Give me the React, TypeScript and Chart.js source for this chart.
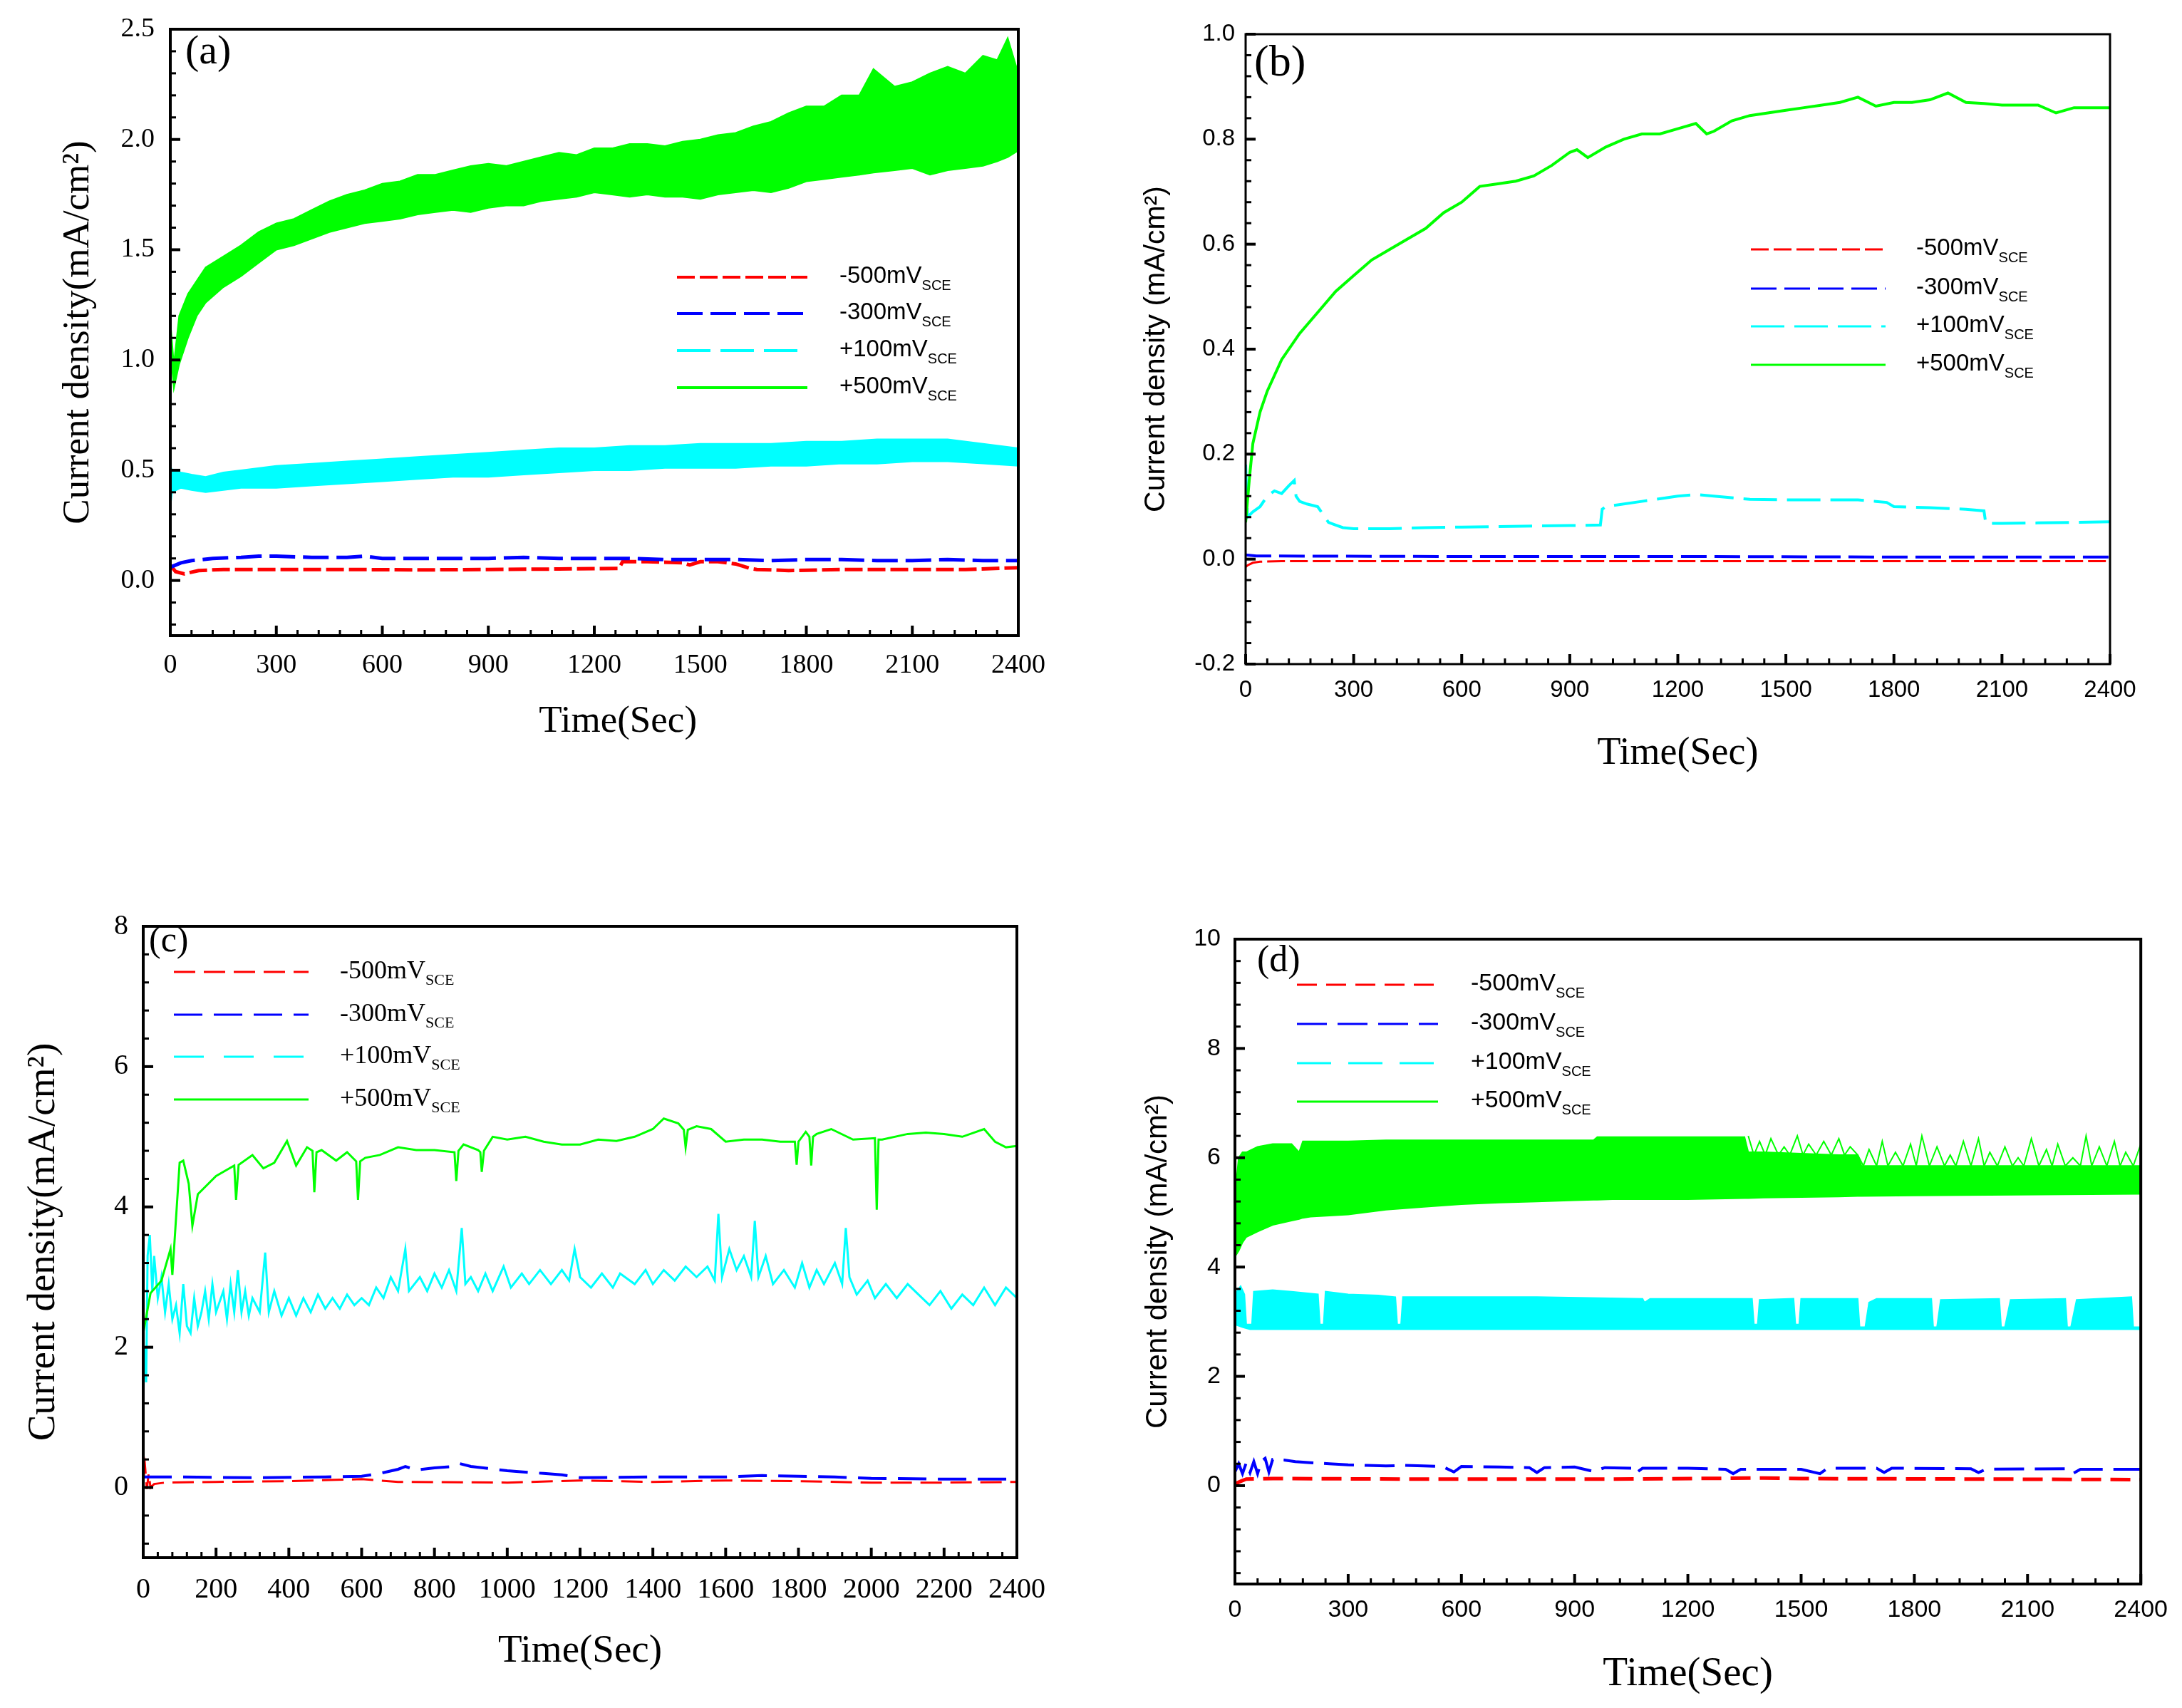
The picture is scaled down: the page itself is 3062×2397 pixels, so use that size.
import React, { useEffect, useRef } from "react";
import { Chart, registerables } from "chart.js";

Chart.register(...registerables);

const SERIF = "'Liberation Serif', 'Times New Roman', serif";
const SANS = "'Liberation Sans', Arial, sans-serif";
const RED = "#ff0000";
const BLUE = "#0000ff";
const CYAN = "#00ffff";
const GREEN = "#00ff00";
const LEGEND_COLORS = [RED, BLUE, CYAN, GREEN];

const legendLabels = ["-500mV", "-300mV", "+100mV", "+500mV"];
const legendSub = "SCE";

// ---------------- panel (a) ----------------
const aXTicks = [0, 300, 600, 900, 1200, 1500, 1800, 2100, 2400];
const aYTicks = [0, 0.5, 1, 1.5, 2, 2.5];
const aRedT = [0, 15, 40, 80, 150, 300, 500, 700, 900, 1100, 1270, 1280, 1350, 1450, 1470, 1500, 1550, 1600, 1640, 1660, 1750, 1900, 2100, 2250, 2400];
const aRedV = [0.07, 0.04, 0.03, 0.045, 0.05, 0.05, 0.05, 0.048, 0.05, 0.052, 0.055, 0.085, 0.085, 0.08, 0.07, 0.085, 0.085, 0.075, 0.055, 0.05, 0.045, 0.05, 0.05, 0.05, 0.058];
const aBlueT = [0, 30, 60, 120, 200, 250, 300, 400, 500, 550, 600, 700, 800, 900, 1000, 1100, 1200, 1300, 1400, 1500, 1600, 1700, 1800, 1900, 2000, 2100, 2200, 2300, 2400];
const aBlueV = [0.06, 0.08, 0.09, 0.1, 0.105, 0.11, 0.11, 0.105, 0.105, 0.11, 0.1, 0.1, 0.1, 0.1, 0.105, 0.1, 0.1, 0.1, 0.095, 0.095, 0.095, 0.09, 0.095, 0.095, 0.09, 0.09, 0.095, 0.09, 0.09];
const aCyanT = [0, 5, 30, 60, 100, 150, 200, 300, 400, 500, 600, 700, 800, 900, 1000, 1100, 1200, 1300, 1400, 1500, 1600, 1700, 1800, 1900, 2000, 2100, 2200, 2300, 2400];
const aCyanHi = [0.52, 0.5, 0.49, 0.48, 0.47, 0.49, 0.5, 0.52, 0.53, 0.54, 0.55, 0.56, 0.57, 0.58, 0.59, 0.6, 0.6, 0.61, 0.61, 0.62, 0.62, 0.62, 0.63, 0.63, 0.64, 0.64, 0.64, 0.62, 0.6];
const aCyanLo = [0.33, 0.4, 0.42, 0.41, 0.4, 0.41, 0.42, 0.42, 0.43, 0.44, 0.45, 0.46, 0.47, 0.47, 0.48, 0.49, 0.5, 0.5, 0.51, 0.51, 0.51, 0.52, 0.52, 0.53, 0.53, 0.54, 0.54, 0.53, 0.52];
const aGreenT = [0, 10, 25, 50, 75, 100, 150, 200, 250, 300, 350, 400, 450, 500, 550, 600, 650, 700, 750, 800, 850, 900, 950, 1000, 1050, 1100, 1150, 1200, 1250, 1300, 1350, 1400, 1450, 1500, 1550, 1600, 1650, 1700, 1750, 1800, 1850, 1900, 1950, 1990, 2050, 2100, 2150, 2200, 2250, 2300, 2340, 2370, 2400];
const aGreenHi = [1.18, 0.98, 1.2, 1.3, 1.36, 1.42, 1.47, 1.52, 1.58, 1.62, 1.64, 1.68, 1.72, 1.75, 1.77, 1.8, 1.81, 1.84, 1.84, 1.86, 1.88, 1.89, 1.88, 1.9, 1.92, 1.94, 1.93, 1.96, 1.96, 1.98, 1.98, 1.97, 1.99, 2.0, 2.02, 2.03, 2.06, 2.08, 2.12, 2.15, 2.15, 2.2, 2.2, 2.32, 2.24, 2.26, 2.3, 2.33, 2.3, 2.38, 2.36, 2.46, 2.3];
const aGreenLo = [1.05, 0.87, 0.98, 1.1, 1.2, 1.26, 1.33, 1.38, 1.44, 1.5, 1.52, 1.55, 1.58, 1.6, 1.62, 1.63, 1.64, 1.66, 1.67, 1.68, 1.67, 1.69, 1.7, 1.7, 1.72, 1.73, 1.74, 1.76, 1.75, 1.74, 1.75, 1.74, 1.74, 1.73, 1.75, 1.76, 1.77, 1.76, 1.78, 1.81, 1.82, 1.83, 1.84, 1.85, 1.86, 1.87, 1.84, 1.86, 1.87, 1.88, 1.9, 1.92, 1.95];

// ---------------- panel (b) ----------------
const bXTicks = [0, 300, 600, 900, 1200, 1500, 1800, 2100, 2400];
const bYTicks = [-0.2, 0, 0.2, 0.4, 0.6, 0.8, 1.0];
const bRedT = [0, 5, 20, 40, 100, 600, 1200, 1800, 2400];
const bRedV = [-0.015, -0.012, -0.007, -0.005, -0.004, -0.004, -0.004, -0.004, -0.004];
const bBlueT = [0, 30, 600, 1200, 1800, 2400];
const bBlueV = [0.008, 0.006, 0.005, 0.005, 0.004, 0.004];
const bCyanT = [0, 5, 20, 40, 60, 80, 100, 120, 135, 140, 150, 170, 200, 230, 250, 270, 300, 400, 500, 600, 700, 800, 900, 985, 990, 1000, 1100, 1200, 1250, 1300, 1400, 1500, 1600, 1700, 1750, 1780, 1800, 1900, 2000, 2050, 2055, 2100, 2200, 2300, 2400];
const bCyanV = [0.18, 0.08, 0.09, 0.1, 0.12, 0.13, 0.125, 0.14, 0.15, 0.12, 0.11, 0.105, 0.1, 0.07, 0.065, 0.06, 0.058, 0.058, 0.06, 0.061, 0.062, 0.063, 0.064, 0.065, 0.095, 0.1, 0.11, 0.12, 0.123, 0.12, 0.114, 0.113, 0.113, 0.113, 0.11, 0.108, 0.1, 0.098, 0.095, 0.092, 0.068, 0.068, 0.069, 0.07, 0.071];
const bGreenT = [0, 10, 20, 40, 60, 100, 150, 200, 250, 300, 350, 400, 450, 500, 550, 600, 650, 700, 750, 800, 850, 900, 920, 950, 1000, 1050, 1100, 1150, 1200, 1250, 1280, 1300, 1350, 1400, 1450, 1500, 1550, 1600, 1650, 1700, 1750, 1800, 1850, 1900, 1950, 2000, 2050, 2100, 2150, 2200, 2250, 2300, 2350, 2400];
const bGreenV = [0.07, 0.15, 0.22, 0.28, 0.32, 0.38, 0.43, 0.47, 0.51, 0.54, 0.57, 0.59, 0.61, 0.63, 0.66, 0.68, 0.71, 0.715, 0.72, 0.73, 0.75, 0.775, 0.78, 0.765, 0.785, 0.8, 0.81, 0.81, 0.82, 0.83, 0.81, 0.815, 0.835, 0.845, 0.85, 0.855, 0.86, 0.865, 0.87, 0.88, 0.863, 0.87, 0.87, 0.875, 0.888, 0.87, 0.868, 0.865, 0.865, 0.865, 0.85, 0.86, 0.86, 0.86];

// ---------------- panel (c) ----------------
const cXTicks = [0, 200, 400, 600, 800, 1000, 1200, 1400, 1600, 1800, 2000, 2200, 2400];
const cYTicks = [0, 2, 4, 6, 8];
const cRedT = [0, 5, 10, 15, 20, 30, 60, 200, 400, 600, 700, 1000, 1200, 1400, 1600, 1800, 2000, 2200, 2400];
const cRedV = [0.1, 0.3, -0.02, 0.2, 0.0, 0.05, 0.07, 0.08, 0.09, 0.12, 0.08, 0.07, 0.1, 0.08, 0.1, 0.09, 0.07, 0.07, 0.08];
const cBlueT = [0, 100, 300, 500, 600, 650, 700, 720, 750, 800, 850, 870, 900, 950, 1000, 1050, 1100, 1150, 1200, 1400, 1600, 1700, 1800, 1900, 2000, 2200, 2400];
const cBlueV = [0.15, 0.15, 0.14, 0.15, 0.16, 0.2, 0.26, 0.3, 0.25, 0.28, 0.3, 0.34, 0.3, 0.27, 0.24, 0.22, 0.2, 0.18, 0.14, 0.15, 0.15, 0.17, 0.16, 0.15, 0.13, 0.12, 0.12];
const cCyanT = [0, 3, 8, 12, 18, 25, 30, 40, 50, 60, 70, 80, 90, 100, 110, 120, 130, 140, 150, 160, 170, 180, 190, 200, 220, 230, 240, 250, 260, 270, 280, 290, 300, 320, 335, 345, 360, 380, 400, 420, 440, 460, 480, 500, 520, 540, 560, 580, 600, 620, 640, 660, 680, 700, 720, 730, 760, 780, 800, 820, 840, 860, 875, 885, 900, 920, 940, 960, 990, 1010, 1040, 1060, 1090, 1120, 1150, 1170, 1185, 1200, 1230, 1260, 1290, 1310, 1350, 1380, 1400, 1430, 1460, 1490, 1520, 1550, 1570, 1580, 1590, 1610, 1630, 1650, 1670, 1680, 1690, 1710, 1730, 1760, 1790, 1810, 1830, 1850, 1870, 1900, 1920, 1930, 1940, 1960, 1990, 2010, 2040, 2070, 2100, 2130, 2160, 2190, 2220, 2250, 2280, 2310, 2340, 2370, 2400];
const cCyanV = [1.1, 2.0, 1.5, 3.3, 3.6, 2.8, 3.3, 2.7, 3.0, 2.5, 2.9, 2.4, 2.6, 2.2, 2.9, 2.3, 2.2, 2.7, 2.3, 2.5, 2.8, 2.4, 2.9, 2.5, 2.8, 2.4, 2.9, 2.5, 3.1, 2.5, 2.8, 2.45, 2.7, 2.5, 3.35, 2.5, 2.8, 2.45, 2.7, 2.45, 2.7, 2.5, 2.75, 2.55, 2.7, 2.55, 2.75, 2.6, 2.7, 2.6, 2.85, 2.7, 3.0, 2.8, 3.4, 2.8, 3.0, 2.8, 3.05, 2.85, 3.1, 2.8, 3.7, 2.9, 3.0, 2.8, 3.05, 2.8, 3.15, 2.85, 3.05, 2.9, 3.1, 2.9, 3.1, 2.95, 3.4, 3.0, 2.85, 3.05, 2.85, 3.05, 2.9, 3.1, 2.9, 3.1, 2.95, 3.15, 3.0, 3.15, 2.95, 3.9, 3.0, 3.4, 3.1, 3.3, 3.0, 3.8, 3.0, 3.3, 2.9, 3.1, 2.85, 3.2, 2.85, 3.1, 2.9, 3.2, 2.9, 3.7, 3.0, 2.75, 2.95, 2.7, 2.9, 2.7, 2.9, 2.75, 2.6, 2.8, 2.55, 2.75, 2.6, 2.85, 2.6, 2.85, 2.7];
const cGreenT = [0, 20, 50, 75, 80, 100, 110, 125, 135, 150, 200, 250, 255, 262, 300, 330, 360, 395, 420, 450, 465, 470, 476, 490, 530, 560, 585, 590, 596, 610, 650, 700, 750, 800, 855, 860, 866, 880, 920, 926, 930, 936, 960, 1000, 1050, 1100, 1150, 1200, 1250, 1300, 1350, 1400, 1430, 1470, 1485, 1490, 1496, 1520, 1560, 1600, 1650, 1700, 1750, 1790, 1795, 1800, 1820, 1830, 1835, 1840, 1850, 1890, 1950, 2010, 2015, 2020, 2030, 2100, 2150, 2200, 2250, 2310, 2340, 2370, 2400];
const cGreenV = [2.2, 2.77, 2.95, 3.4, 3.03, 4.63, 4.66, 4.33, 3.73, 4.18, 4.44, 4.59, 4.1, 4.6, 4.74, 4.55, 4.63, 4.94, 4.59, 4.85, 4.8, 4.21, 4.78, 4.81, 4.66, 4.78, 4.65, 4.1, 4.65, 4.7, 4.74, 4.85, 4.81, 4.81, 4.78, 4.37, 4.8, 4.89, 4.81, 4.78, 4.5, 4.8, 5.0, 4.96, 5.0, 4.93, 4.89, 4.89, 4.96, 4.94, 5.0, 5.11, 5.26, 5.19, 5.1, 4.85, 5.1, 5.15, 5.11, 4.93, 4.96, 4.96, 4.93, 4.93, 4.6, 4.93, 5.07, 5.0, 4.59, 5.0, 5.04, 5.11, 4.96, 4.98, 3.96, 4.96, 4.96, 5.04, 5.06, 5.04, 5.0, 5.11, 4.93, 4.85, 4.87];

// ---------------- panel (d) ----------------
const dXTicks = [0, 300, 600, 900, 1200, 1500, 1800, 2100, 2400];
const dYTicks = [0, 2, 4, 6, 8, 10];
const dRedT = [0, 15, 30, 100, 500, 1000, 1400, 1500, 2000, 2400];
const dRedV = [0.03, 0.08, 0.12, 0.13, 0.12, 0.12, 0.14, 0.13, 0.12, 0.11];
const dBlueT = [0, 10, 20, 30, 40, 50, 60, 70, 80, 90, 100, 130, 160, 200, 250, 300, 350, 400, 450, 500, 550, 580, 600, 700, 780, 800, 820, 900, 950, 980, 1050, 1060, 1080, 1200, 1300, 1320, 1340, 1500, 1550, 1570, 1700, 1720, 1740, 1950, 1970, 1990, 2200, 2220, 2240, 2400];
const dBlueV = [0.25, 0.4, 0.22, 0.42, 0.24, 0.44, 0.22, 0.45, 0.5, 0.25, 0.48, 0.47, 0.44, 0.42, 0.4, 0.38, 0.37, 0.36, 0.37, 0.36, 0.35, 0.25, 0.35, 0.34, 0.33, 0.24, 0.33, 0.34, 0.26, 0.33, 0.32, 0.22, 0.32, 0.32, 0.3, 0.22, 0.3, 0.3, 0.22, 0.32, 0.32, 0.24, 0.32, 0.31, 0.24, 0.3, 0.31, 0.22, 0.3, 0.3];
const dCyanT = [0, 15, 25, 30, 45, 50, 100, 150, 220, 225, 235, 240, 300, 380, 425, 430, 440, 445, 600, 800, 1080, 1085, 1100, 1370, 1375, 1385, 1390, 1480, 1485, 1495, 1500, 1650, 1655, 1670, 1680, 1700, 1845, 1850, 1860, 1870, 2025, 2030, 2040, 2055, 2200, 2205, 2215, 2230, 2375, 2380, 2400];
const dCyanHi = [3.5, 3.65, 3.5, 2.95, 2.95, 3.55, 3.58, 3.55, 3.5, 2.95, 2.95, 3.55, 3.5, 3.48, 3.45, 2.95, 2.95, 3.45, 3.45, 3.45, 3.42, 3.35, 3.42, 3.42, 2.95, 2.95, 3.4, 3.42, 2.95, 2.95, 3.42, 3.42, 2.9, 2.9, 3.35, 3.42, 3.42, 2.9, 2.9, 3.4, 3.42, 2.9, 2.9, 3.4, 3.42, 2.9, 2.9, 3.4, 3.45, 2.9, 2.9];
const dCyanLoT = [0, 20, 40, 2400];
const dCyanLoV = [2.95, 2.9, 2.86, 2.86];
const dGreenT = [0, 10, 20, 30, 60, 100, 150, 170, 180, 200, 300, 400, 500, 600, 700, 800, 900, 950, 960, 1000, 1200, 1350, 1360, 1400, 1600, 1650, 1660, 1800, 2000, 2200, 2400];
const dGreenHi = [5.3, 6.0, 6.1, 6.1, 6.2, 6.25, 6.25, 6.1, 6.3, 6.3, 6.3, 6.32, 6.32, 6.32, 6.32, 6.32, 6.32, 6.32, 6.38, 6.38, 6.38, 6.38, 6.1, 6.1, 6.05, 6.05, 5.85, 5.85, 5.85, 5.85, 5.85];
const dGreenLo = [4.19, 4.3, 4.45, 4.55, 4.65, 4.77, 4.85, 4.88, 4.9, 4.92, 4.96, 5.05, 5.1, 5.15, 5.18, 5.2, 5.22, 5.23, 5.23, 5.24, 5.24, 5.26, 5.26, 5.27, 5.29, 5.3, 5.3, 5.31, 5.32, 5.33, 5.34];
const dGreenSpikeT = [1360, 1375, 1390, 1405, 1420, 1440, 1455, 1470, 1490, 1505, 1520, 1540, 1560, 1580, 1600, 1615, 1630, 1650, 1665, 1680, 1700, 1715, 1730, 1750, 1770, 1790, 1805, 1820, 1840, 1860, 1880, 1895, 1910, 1930, 1950, 1970, 1985, 2000, 2020, 2040, 2060, 2075, 2090, 2110, 2130, 2150, 2165, 2180, 2200, 2220, 2240, 2255, 2270, 2290, 2310, 2330, 2345, 2360, 2380, 2400];
const dGreenSpikeV = [6.4, 6.05, 6.3, 6.05, 6.35, 6.05, 6.2, 6.05, 6.4, 6.05, 6.25, 6.05, 6.3, 6.05, 6.35, 6.05, 6.2, 6.05, 5.85, 6.15, 5.85, 6.3, 5.85, 6.1, 5.85, 6.25, 5.85, 6.4, 5.85, 6.2, 5.85, 6.05, 5.85, 6.3, 5.85, 6.35, 5.85, 6.1, 5.85, 6.2, 5.85, 6.0, 5.85, 6.35, 5.85, 6.15, 5.85, 6.25, 5.85, 6.0, 5.85, 6.4, 5.85, 6.2, 5.85, 6.3, 5.85, 6.1, 5.85, 6.25];

// ---------------- helpers ----------------
const pts = (t: number[], v: number[]) => t.map((x, i) => ({ x, y: v[i] }));

function line(data: any[], color: string, width: number, dash: number[] = []) {
  return { data, borderColor: color, backgroundColor: color, borderWidth: width, borderDash: dash, pointRadius: 0, fill: false, tension: 0 };
}
function band(hi: any[], lo: any[], color: string, width: number) {
  return [
    { data: hi, borderColor: color, backgroundColor: color, borderWidth: width, pointRadius: 0, fill: false, tension: 0 },
    { data: lo, borderColor: color, backgroundColor: color, borderWidth: width, pointRadius: 0, fill: "-1", tension: 0 },
  ];
}

const DASH_A = [[25, 7], [36, 11], [47, 14], []];
const DASH_C = [[30, 12], [40, 16], [42, 28], []];
const DASH_D = [[28, 13], [42, 15], [48, 24], []];

const panels: any[] = [
  {
    id: "a", left: 0, top: 0, w: 1530, h: 1100,
    padTop: 37, padRight: 101, yWidth: 239, xHeight: 208,
    xTicks: aXTicks, yTicks: aYTicks, yMin: -0.25, yMax: 2.5, yDec: 1, xMinor: 60, yMinor: 0.1,
    tickFont: SERIF, tickSize: 38, xTickPad: 23, yTickPad: 22,
    yTitle: "Current density(mA/cm²)", yTitleFont: SERIF, yTitleSize: 53, yTitlePad: 84,
    xTitle: "     Time(Sec)", xTitleSize: 53, xTitlePad: 60,
    label: "(a)", labelX: 260, labelY: 89, labelSize: 58,
    legend: { x1: 950, x2: 1133, tx: 1178, rows: [389, 440, 492, 544], font: SANS, size: 33, subSize: 20, subDy: 10, baseDy: 8, dashes: DASH_A, width: 4 },
    border: 4,
    datasets: [
      ...band(pts(aGreenT, aGreenHi), pts(aGreenT, aGreenLo), GREEN, 2),
      ...band(pts(aCyanT, aCyanHi), pts(aCyanT, aCyanLo), CYAN, 2),
      line(pts(aBlueT, aBlueV), BLUE, 5, DASH_A[1]),
      line(pts(aRedT, aRedV), RED, 5, DASH_A[0]),
    ],
  },
  {
    id: "b", left: 1540, top: 0, w: 1522, h: 1110,
    padTop: 48, padRight: 101, yWidth: 208, xHeight: 178,
    xTicks: bXTicks, yTicks: bYTicks, yMin: -0.2, yMax: 1.0, yDec: 1, xMinor: 60, yMinor: 0.04,
    tickFont: SANS, tickSize: 33, xTickPad: 20, yTickPad: 15,
    yTitle: "Current density (mA/cm²)", yTitleFont: SANS, yTitleSize: 41, yTitlePad: 62,
    xTitle: "Time(Sec)", xTitleSize: 54, xTitlePad: 25,
    label: "(b)", labelX: 220, labelY: 106, labelSize: 62,
    legend: { x1: 917, x2: 1106, tx: 1149, rows: [350, 405, 458, 512], font: SANS, size: 33, subSize: 20, subDy: 10, baseDy: 8, dashes: DASH_A, width: 3 },
    border: 3,
    datasets: [
      line(pts(bGreenT, bGreenV), GREEN, 4),
      line(pts(bCyanT, bCyanV), CYAN, 4, DASH_A[2]),
      line(pts(bBlueT, bBlueV), BLUE, 4, DASH_A[1]),
      line(pts(bRedT, bRedV), RED, 3, DASH_A[0]),
    ],
  },
  {
    id: "c", left: 0, top: 1200, w: 1530, h: 1197,
    padTop: 100, padRight: 103, yWidth: 201, xHeight: 211,
    xTicks: cXTicks, yTicks: cYTicks, yMin: -1, yMax: 8, yDec: 0, xMinor: 40, yMinor: 0.4,
    tickFont: SERIF, tickSize: 40, xTickPad: 25, yTickPad: 21,
    yTitle: "Current density(mA/cm²)", yTitleFont: SERIF, yTitleSize: 55, yTitlePad: 34,
    xTitle: "Time(Sec)", xTitleSize: 55, xTitlePad: 52,
    label: "(c)", labelX: 209, labelY: 135, labelSize: 50,
    legend: { x1: 244, x2: 433, tx: 477, rows: [164, 224, 283, 343], font: SERIF, size: 36, subSize: 22, subDy: 9, baseDy: 9, dashes: DASH_C, width: 3 },
    border: 4,
    datasets: [
      line(pts(cGreenT, cGreenV), GREEN, 3),
      line(pts(cCyanT, cCyanV), CYAN, 3),
      line(pts(cBlueT, cBlueV), BLUE, 4, DASH_C[1]),
      line(pts(cRedT, cRedV), RED, 3, DASH_C[0]),
    ],
  },
  {
    id: "d", left: 1540, top: 1200, w: 1522, h: 1197,
    padTop: 118, padRight: 56, yWidth: 193, xHeight: 174,
    xTicks: dXTicks, yTicks: dYTicks, yMin: -1.8, yMax: 10, yDec: 0, xMinor: 60, yMinor: 0.4,
    tickFont: SANS, tickSize: 34, xTickPad: 20, yTickPad: 20,
    yTitle: "Current density (mA/cm²)", yTitleFont: SANS, yTitleSize: 42, yTitlePad: 64,
    xTitle: "Time(Sec)", xTitleSize: 57, xTitlePad: 18,
    label: "(d)", labelX: 224, labelY: 163, labelSize: 52,
    legend: { x1: 280, x2: 478, tx: 524, rows: [182, 237, 292, 346], font: SANS, size: 34, subSize: 20, subDy: 10, baseDy: 8, dashes: DASH_D, width: 3 },
    border: 4,
    datasets: [
      line(pts(dGreenSpikeT, dGreenSpikeV), GREEN, 2),
      ...band(pts(dGreenT, dGreenHi), pts(dGreenT, dGreenLo), GREEN, 2),
      ...band(pts(dCyanT, dCyanHi), pts(dCyanLoT, dCyanLoV), CYAN, 2),
      line(pts(dBlueT, dBlueV), BLUE, 4, DASH_D[1]),
      line(pts(dRedT, dRedV), RED, 5, DASH_D[0]),
    ],
  },
];

function decorPlugin(s: any) {
  return {
    id: "decor_" + s.id,
    afterDatasetsDraw(chart: any) {
      const { ctx, chartArea: a } = chart;
      const xs = chart.scales.x;
      const ys = chart.scales.y;
      ctx.save();
      ctx.strokeStyle = "#000";
      ctx.setLineDash([]);
      const nx = Math.round(2400 / s.xMinor);
      for (let k = 0; k <= nx; k++) {
        const v = k * s.xMinor;
        const major = s.xTicks.some((t: number) => Math.abs(t - v) < 1e-6);
        const px = xs.getPixelForValue(v);
        ctx.lineWidth = major ? 4 : 3;
        ctx.beginPath();
        ctx.moveTo(px, a.bottom);
        ctx.lineTo(px, a.bottom - (major ? 14 : 8));
        ctx.stroke();
      }
      const k0 = Math.ceil(s.yMin / s.yMinor - 1e-6);
      const k1 = Math.floor(s.yMax / s.yMinor + 1e-6);
      for (let k = k0; k <= k1; k++) {
        const v = k * s.yMinor;
        const major = s.yTicks.some((t: number) => Math.abs(t - v) < s.yMinor / 10);
        const py = ys.getPixelForValue(v);
        ctx.lineWidth = major ? 4 : 3;
        ctx.beginPath();
        ctx.moveTo(a.left, py);
        ctx.lineTo(a.left + (major ? 14 : 8), py);
        ctx.stroke();
      }
      ctx.lineWidth = s.border;
      ctx.strokeRect(a.left, a.top, a.right - a.left, a.bottom - a.top);

      ctx.fillStyle = "#000";
      ctx.textAlign = "left";
      ctx.textBaseline = "alphabetic";
      ctx.font = `${s.labelSize}px ${SERIF}`;
      ctx.fillText(s.label, s.labelX, s.labelY);

      const L = s.legend;
      L.rows.forEach((y: number, i: number) => {
        ctx.strokeStyle = LEGEND_COLORS[i];
        ctx.lineWidth = L.width;
        ctx.setLineDash(L.dashes[i]);
        ctx.beginPath();
        ctx.moveTo(L.x1, y);
        ctx.lineTo(L.x2, y);
        ctx.stroke();
        ctx.setLineDash([]);
        ctx.fillStyle = "#000";
        ctx.font = `${L.size}px ${L.font}`;
        ctx.fillText(legendLabels[i], L.tx, y + L.baseDy);
        const w = ctx.measureText(legendLabels[i]).width;
        ctx.font = `${L.subSize}px ${L.font}`;
        ctx.fillText(legendSub, L.tx + w, y + L.baseDy + L.subDy);
      });
      ctx.restore();
    },
  };
}

function buildConfig(s: any): any {
  return {
    type: "line",
    data: { datasets: s.datasets },
    options: {
      animation: false,
      responsive: false,
      devicePixelRatio: 1,
      layout: { padding: { top: s.padTop, right: s.padRight, left: 0, bottom: 0 } },
      plugins: { legend: { display: false }, tooltip: { enabled: false } },
      elements: { point: { radius: 0 } },
      scales: {
        x: {
          type: "linear",
          min: 0,
          max: 2400,
          afterFit: (sc: any) => { sc.height = s.xHeight; },
          afterBuildTicks: (sc: any) => { sc.ticks = s.xTicks.map((v: number) => ({ value: v })); },
          grid: { display: false, drawTicks: false },
          border: { display: false },
          ticks: {
            autoSkip: false, maxRotation: 0, minRotation: 0, padding: s.xTickPad, color: "#000",
            font: { family: s.tickFont, size: s.tickSize, lineHeight: 1 },
            callback: (v: any) => String(v),
          },
          title: {
            display: true, text: s.xTitle, color: "#000",
            font: { family: SERIF, size: s.xTitleSize, lineHeight: 1 },
            padding: { top: 0, bottom: s.xTitlePad },
          },
        },
        y: {
          type: "linear",
          min: s.yMin,
          max: s.yMax,
          afterFit: (sc: any) => { sc.width = s.yWidth; },
          afterBuildTicks: (sc: any) => { sc.ticks = s.yTicks.map((v: number) => ({ value: v })); },
          grid: { display: false, drawTicks: false },
          border: { display: false },
          ticks: {
            autoSkip: false, padding: s.yTickPad, color: "#000",
            font: { family: s.tickFont, size: s.tickSize, lineHeight: 1 },
            callback: (v: any) => Number(v).toFixed(s.yDec),
          },
          title: {
            display: true, text: s.yTitle, color: "#000",
            font: { family: s.yTitleFont, size: s.yTitleSize, lineHeight: 1 },
            padding: { top: s.yTitlePad, bottom: 0 },
          },
        },
      },
    },
    plugins: [decorPlugin(s)],
  };
}

function Panel({ spec }: { spec: any }) {
  const ref = useRef<HTMLCanvasElement>(null);
  useEffect(() => {
    if (!ref.current) return;
    const chart = new Chart(ref.current, buildConfig(spec));
    return () => chart.destroy();
  }, [spec]);
  return (
    <canvas
      ref={ref}
      width={spec.w}
      height={spec.h}
      style={{ position: "absolute", left: spec.left, top: spec.top, width: spec.w, height: spec.h }}
    />
  );
}

export default function App() {
  return (
    <div style={{ position: "absolute", left: 0, top: 0, width: 3062, height: 2397, background: "#fff", overflow: "hidden" }}>
      {panels.map((p) => (
        <Panel key={p.id} spec={p} />
      ))}
    </div>
  );
}
